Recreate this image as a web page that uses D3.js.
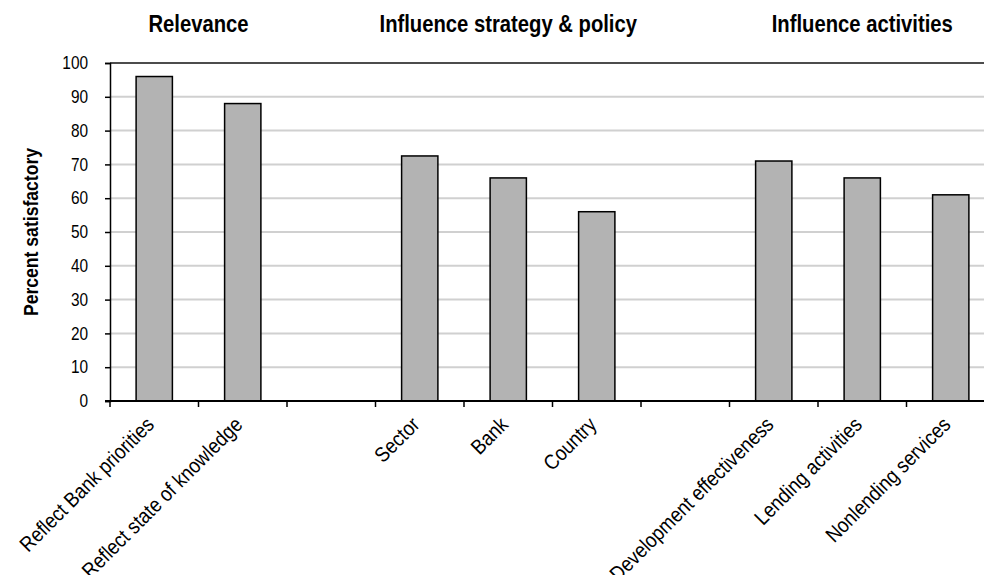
<!DOCTYPE html>
<html>
<head>
<meta charset="utf-8">
<script src="https://cdn.jsdelivr.net/npm/d3@7"></script>
<style>
  body { margin: 0; background: #fff; }
  svg { display: block; font-family: "Liberation Sans", Arial, sans-serif; }
</style>
</head>
<body>
<div class="chart"></div>
<script>
const width = 984;
const height = 575;
const margin = { top: 63, bottom: 174, left: 110, right: -11 };

// slots along x; two empty slots separate the groups
const categories = [
  "Reflect Bank priorities", "Reflect state of knowledge", "gap1",
  "Sector", "Bank", "Country", "gap2",
  "Development effectiveness", "Lending activities", "Nonlending services"
];
const values = [96, 88, null, 72.5, 66, 56, null, 71, 66, 61];
const groupTitles = ["Relevance", "Influence strategy & policy", "Influence activities"];
// slot the group title is centred on (fractional = between slots)
const groupAt = [0.5, 4, 8];
const yTicks = [0, 10, 20, 30, 40, 50, 60, 70, 80, 90, 100];

const squeeze = 0.88; // fake a condensed face

const svg = d3.select("div.chart")
  .append("svg")
  .attr("width", width)
  .attr("height", height);

const x = d3.scaleBand()
  .domain(categories)
  .range([margin.left, width - margin.right])
  .padding(0);

const y = d3.scaleLinear()
  .domain([0, 100])
  .range([height - margin.bottom, margin.top]);

const barW = x.bandwidth() * 0.41;

// gridlines
svg.append("g")
  .selectAll("line")
  .data(yTicks.filter(d => d > 0 && d < 100))
  .join("line")
  .attr("x1", margin.left)
  .attr("x2", width)
  .attr("y1", d => y(d))
  .attr("y2", d => y(d))
  .attr("stroke", "#d0d0d0")
  .attr("stroke-width", 2);

// top border
svg.append("line")
  .attr("x1", margin.left)
  .attr("x2", width)
  .attr("y1", y(100))
  .attr("y2", y(100))
  .attr("stroke", "#111")
  .attr("stroke-width", 1.5);

// bars
svg.append("g")
  .selectAll("rect")
  .data(categories.map((c, i) => ({ c, v: values[i] })).filter(d => d.v != null))
  .join("rect")
  .attr("x", d => x(d.c) + (x.bandwidth() - barW) / 2)
  .attr("width", barW)
  .attr("y", d => y(d.v))
  .attr("height", d => y(0) - y(d.v))
  .attr("fill", "#b3b3b3")
  .attr("stroke", "#000")
  .attr("stroke-width", 1.5);

// y axis
const yAxis = svg.append("g")
  .attr("transform", `translate(${margin.left},0)`)
  .call(d3.axisLeft(y).tickValues(yTicks).tickSize(5).tickPadding(17));
yAxis.select(".domain").attr("stroke", "#000").attr("stroke-width", 1.5);
yAxis.selectAll(".tick line").attr("stroke", "#000").attr("stroke-width", 1.5);
yAxis.selectAll(".tick text")
  .attr("font-size", 17.5)
  .attr("fill", "#000")
  .attr("x", -22 / squeeze)
  .attr("transform", `scale(${squeeze},1)`);

// x axis: ticks at slot boundaries
const xg = svg.append("g")
  .attr("transform", `translate(0,${y(0)})`);
xg.append("line")
  .attr("x1", margin.left - 5)
  .attr("x2", width)
  .attr("stroke", "#000")
  .attr("stroke-width", 2);
xg.selectAll("line.tick")
  .data(categories)
  .join("line")
  .attr("class", "tick")
  .attr("x1", d => x(d))
  .attr("x2", d => x(d))
  .attr("y1", 0)
  .attr("y2", 6)
  .attr("stroke", "#000")
  .attr("stroke-width", 1.5);
xg.selectAll("text")
  .data(categories.filter(d => !d.startsWith("gap")))
  .join("text")
  .attr("transform", d => `translate(${x(d) + x.bandwidth() / 2 + 1},${25}) rotate(-45) scale(${squeeze},1)`)
  .attr("text-anchor", "end")
  .attr("font-size", 21)
  .attr("fill", "#000")
  .text(d => d);

// y title
svg.append("text")
  .attr("transform", `translate(38,${(y(0) + y(100)) / 2}) rotate(-90) scale(${squeeze},1)`)
  .attr("text-anchor", "middle")
  .attr("font-size", 20)
  .attr("font-weight", "bold")
  .text("Percent satisfactory");

// group titles
svg.append("g")
  .selectAll("text")
  .data(groupTitles)
  .join("text")
  .attr("transform", (d, i) => `translate(${x(categories[0]) + (groupAt[i] + 0.5) * x.bandwidth()},32) scale(${squeeze},1)`)
  .attr("text-anchor", "middle")
  .attr("font-size", 23)
  .attr("font-weight", "bold")
  .text(d => d);
</script>
</body>
</html>
